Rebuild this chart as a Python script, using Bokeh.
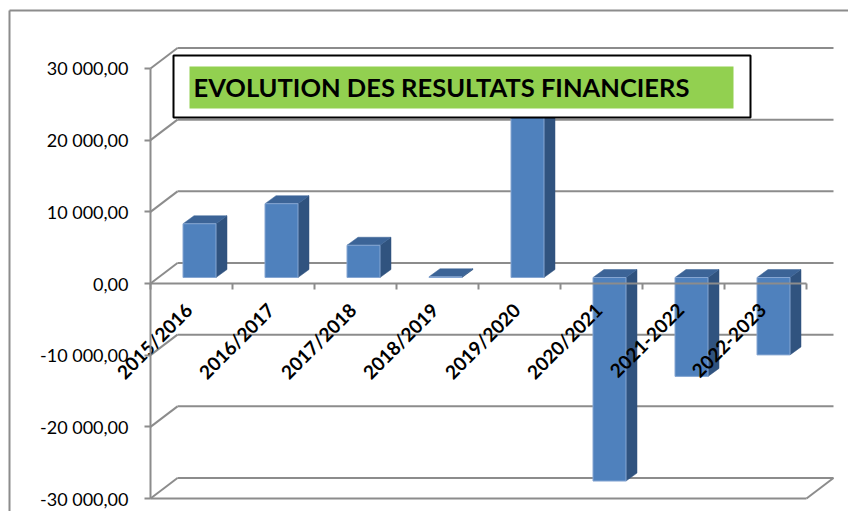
import numpy as np
from bokeh.plotting import figure
from bokeh.models import Range1d, LinearAxis, FixedTicker
from bokeh.core.properties import value
from bokeh.embed import file_html
from bokeh.resources import INLINE

# ---------------- data ----------------
categories = ["2015/2016", "2016/2017", "2017/2018", "2018/2019",
              "2019/2020", "2020/2021", "2021-2022", "2022-2023"]
results = [7500, 10300, 4500, 100, 25000, -28400, -13800, -10800]
y_ticks = [-30000, -20000, -10000, 0, 10000, 20000, 30000]
y_tick_labels = ["-30 000,00", "-20 000,00", "-10 000,00", "0,00",
                 "10 000,00", "20 000,00", "30 000,00"]
title_text = "EVOLUTION DES RESULTATS FINANCIERS"

# ---------------- geometry helpers (image pixels -> data) ----------------
W, H = 848, 511
OFF = 0
AX_X = 150.0          # front wall left edge (px)
ZERO_Y = 283.0        # front zero line (px)
PX_CAT = 82.0         # pixels per category
PX_VAL = 71.667 / 10000.0  # pixels per unit of value


def U(px):
    return (px - AX_X) / PX_CAT - 0.5


def V(py):
    return (ZERO_Y - py) / PX_VAL


def du(dpx):
    return dpx / PX_CAT


def dv(dpy):
    return dpy / PX_VAL


n = len(categories)
idx = np.arange(n, dtype=float)
vals = np.array(results, dtype=float)
lo_cat, hi_cat = -0.5, n - 0.5

p = figure(width=W, height=H, output_backend="svg", toolbar_location=None,
           x_range=Range1d(U(OFF), U(OFF + W)), y_range=Range1d(V(OFF + H), V(OFF)),
           x_axis_location=None, y_axis_location=None, min_border=0)
p.grid.visible = False
p.outline_line_color = None
p.background_fill_color = "white"
p.border_fill_color = "white"

GRID = "#8C8C8C"

# outer chart border (left and top)
p.segment(x0=[U(9), U(9)], y0=[V(10), V(10)], x1=[U(9), U(900)], y1=[V(600), V(10)],
          line_color=GRID, line_width=2)

# back wall gridlines + left-side diagonals
wdx, wdy = du(27), dv(20.5)
ticks = np.array(y_ticks, dtype=float)
p.segment(x0=[lo_cat] * len(ticks), y0=ticks, x1=[lo_cat + wdx] * len(ticks), y1=ticks + wdy,
          line_color=GRID, line_width=2)
p.segment(x0=[lo_cat + wdx] * len(ticks), y0=ticks + wdy, x1=[hi_cat + wdx] * len(ticks),
          y1=ticks + wdy, line_color=GRID, line_width=2)
# floor front edge and right diagonal
ymin = ticks.min()
p.segment(x0=[lo_cat, hi_cat], y0=[ymin, ymin], x1=[hi_cat, hi_cat + wdx], y1=[ymin, ymin + wdy],
          line_color=GRID, line_width=2)

# ---------------- 3D bars ----------------
bu, bv = du(8), dv(6)            # bar plane offset
hw = du(16.5)                    # half width
sdx, sdy = du(11), dv(8)         # bar depth
xc = idx + bu
xl, xr = xc - hw, xc + hw
top = np.maximum(vals, 0) + bv
bot = np.minimum(vals, 0) + bv

side_xs = [[r, r, r + sdx, r + sdx] for r in xr]
side_ys = [[b, t, t + sdy, b + sdy] for b, t in zip(bot, top)]
p.patches(side_xs, side_ys, fill_color="#30537F", line_color="#30537F", line_width=0.5)

top_xs = [[l, r, r + sdx, l + sdx] for l, r in zip(xl, xr)]
top_ys = [[t, t, t + sdy, t + sdy] for t in top]
p.patches(top_xs, top_ys, fill_color="#3C6497", line_color="#3C6497", line_width=0.5)

p.quad(left=xl, right=xr, bottom=bot, top=top, fill_color="#4F81BD",
       line_color="#86A6D2", line_width=1)

# ---------------- category labels ----------------
p.text(x=idx - du(3), y=[-dv(23)] * n, text=categories, angle=np.pi / 4,
       text_align="right", text_baseline="middle", text_font=value("Lato"),
       text_font_style="bold", text_font_size="19px", text_color="black")

# ---------------- title box ----------------
p.quad(left=[U(173)], right=[U(750)], bottom=[V(117)], top=[V(55)],
       fill_color="white", line_color="black", line_width=2)
p.quad(left=[U(189)], right=[U(733)], bottom=[V(108)], top=[V(66)],
       fill_color="#92D050", line_color=None)
p.text(x=[U(193)], y=[V(86)], text=[title_text], text_align="left",
       text_baseline="middle", text_font=value("Lato"), text_font_style="bold",
       text_font_size="25.5px", text_color="black")

# ---------------- axes ----------------
yax = LinearAxis(fixed_location=lo_cat, ticker=FixedTicker(ticks=y_ticks),
                 bounds=(min(y_ticks), max(y_ticks)))
yax.major_label_overrides = {t: s for t, s in zip(y_ticks, y_tick_labels)}
yax.axis_line_color = GRID
yax.axis_line_width = 2
yax.major_tick_line_color = GRID
yax.major_tick_line_width = 2
yax.major_tick_out = 6
yax.major_tick_in = 0
yax.minor_tick_line_color = None
yax.major_label_standoff = 16
yax.major_label_text_font = "Lato"
yax.major_label_text_font_size = "18px"
yax.major_label_text_color = "black"
p.add_layout(yax, "left")

bounds_ticks = list(np.arange(n + 1) - 0.5)
xax = LinearAxis(fixed_location=0, ticker=FixedTicker(ticks=bounds_ticks),
                 bounds=(lo_cat, hi_cat))
xax.major_label_overrides = {t: "" for t in bounds_ticks}
xax.major_label_text_font_size = "0px"
xax.axis_line_color = GRID
xax.axis_line_width = 2
xax.major_tick_line_color = GRID
xax.major_tick_line_width = 2
xax.major_tick_out = 6
xax.major_tick_in = 0
xax.minor_tick_line_color = None
p.add_layout(xax, "below")

open("out.html", "w").write(file_html(p, INLINE))
